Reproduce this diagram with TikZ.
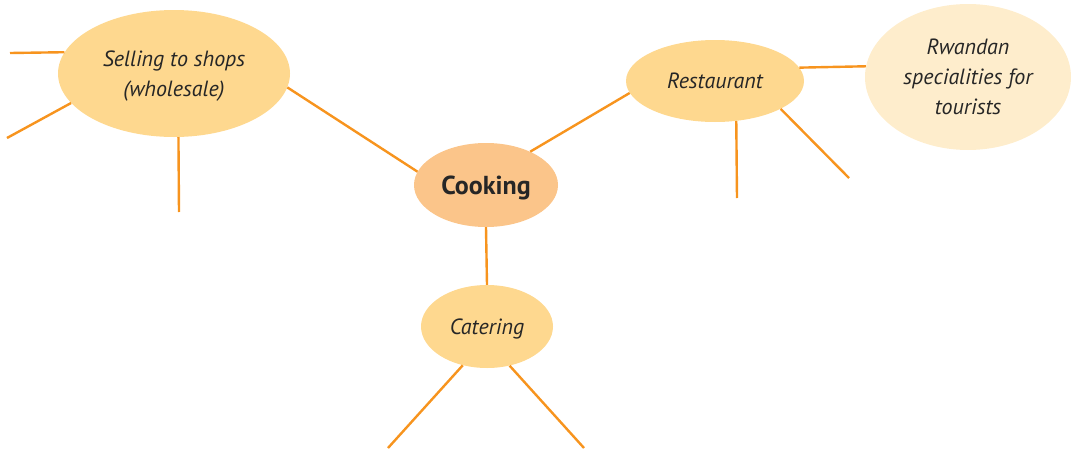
\documentclass[tikz,border=0pt]{standalone}
\usepackage{fontspec}
\setmainfont{PT Sans}
\begin{document}
\begin{tikzpicture}[x=1pt,y=-1pt,
  bub/.style={ellipse,inner sep=0pt,align=center,text depth=0pt,font=\fontsize{22}{30}\selectfont\itshape,text=black!85},
  link/.style={draw=lorange,line width=2.4pt}]
\definecolor{sfill}{HTML}{FED88F}
\definecolor{cfill}{HTML}{FBC58A}
\definecolor{rfill}{HTML}{FEEDCC}
\definecolor{lorange}{HTML}{F7941E}
\useasboundingbox (0,0) rectangle (1072,450);
\usetikzlibrary{shapes.geometric}
\node[bub,fill=sfill,minimum width=232pt,minimum height=127pt] (sell) at (174,73.5) {Selling to shops\\(wholesale)};
\node[bub,fill=cfill,minimum width=144pt,minimum height=84pt,font=\fontsize{26}{30}\selectfont\bfseries] (cook) at (486,185) {Cooking};
\node[bub,fill=sfill,minimum width=178pt,minimum height=82pt] (rest) at (715,81) {Restaurant};
\node[bub,fill=rfill,minimum width=206pt,minimum height=146pt] (rwa) at (968,77) {Rwandan\\specialities for\\tourists};
\node[bub,fill=sfill,minimum width=132pt,minimum height=83pt] (cat) at (487,326.5) {Catering};
\coordinate (s1) at (10,53);
\coordinate (s2) at (7,138);
\coordinate (s3) at (179,212);
\coordinate (r1) at (737,198);
\coordinate (r2) at (849,178);
\coordinate (c1) at (388,448);
\coordinate (c2) at (584,448);
\draw[link] (sell.169.3) -- (s1);
\draw[link] (sell.196.6) -- (s2);
\draw[link] (sell.274.5) -- (s3);
\draw[link] (sell.353.2) -- (cook.169.2);
\draw[link] (cook.37.7) -- (rest.188.9);
\draw[link] (cook.south) -- (cat.north);
\draw[link] (rest.9.5) -- (rwa.174.5);
\draw[link] (rest.298.2) -- (r1);
\draw[link] (rest.337.8) -- (r2);
\draw[link] (cat.238.5) -- (c1);
\draw[link] (cat.300.5) -- (c2);
\end{tikzpicture}
\end{document}
